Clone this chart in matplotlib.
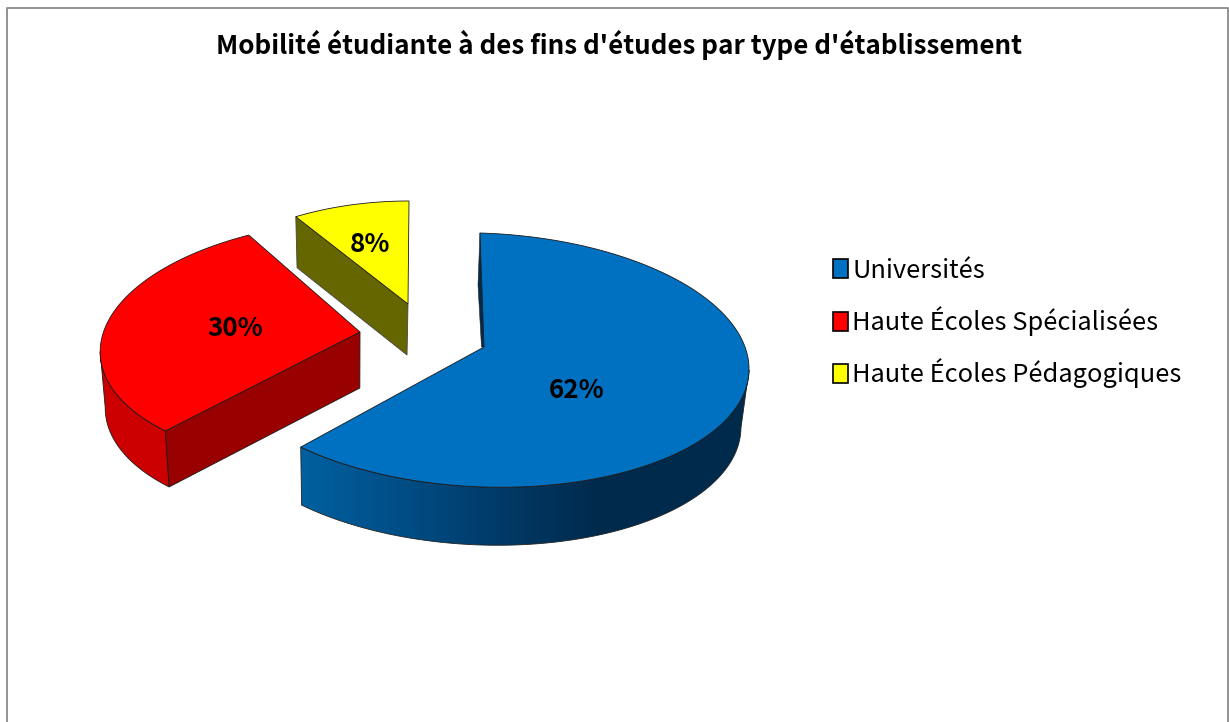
import matplotlib
matplotlib.use("Agg")
import matplotlib.pyplot as plt
import numpy as np
from matplotlib.patches import Patch, Polygon

plt.rcParams["font.family"] = ["Noto Sans CJK JP", "DejaVu Sans"]

title = "Mobilité étudiante à des fins d'études par type d'établissement"
categories = ["Universités", "Haute Écoles Spécialisées", "Haute Écoles Pédagogiques"]
values = [62, 30, 8]

TOP = ["#0070C0", "#FF0000", "#FFFF00"]
CUT = ["#002B4D", "#990000", "#666600"]
EDGE = "#1a1a1a"

# pixel layout of each exploded slice, the perspective is faked by shear + shrink
GEOM = [
    dict(cx=482, cy=360, a=267, b=127, kx=0.016, ky=0.03, apex=(484, 347), depth=58, dx=-2.7),
    dict(cx=352, cy=342, a=251, b=122, kx=-0.166, ky=0.0, apex=(360, 332), depth=56, dx=0.0),
    dict(cx=409, cy=328, a=235, b=127, kx=0.0, ky=0.0, apex=(408, 304), depth=51, dx=-1.0),
]
LABEL_POS = [(577, 391), (235, 328), (370, 244)]
SHRINK = 0.02

# wall shading of the big slice, by pixel x
WALL_X = [301, 400, 500, 600, 750]
WALL_RGB = np.array([[0, 96, 160], [0, 78, 134], [0, 58, 104], [0, 42, 76], [0, 43, 77]]) / 255


def rim(g, theta):
    t = np.radians(theta)
    rx = g["a"] * np.sin(t)
    ry = -g["b"] * np.cos(t)
    return g["cx"] + rx + g["kx"] * ry, g["cy"] + ry + g["ky"] * rx


def lower(g, x, y):
    return x + g["dx"] + SHRINK * (g["cx"] - x), y + g["depth"]


def wall(g, th):
    x, y = rim(g, th)
    bx, by = lower(g, x, y)
    return np.r_[np.c_[x, y], np.c_[bx, by][::-1]]


fig = plt.figure(figsize=(12.29, 7.22), dpi=100)
ax = fig.add_axes([0, 0, 1, 1])
ax.set_xlim(0, 1229)
ax.set_ylim(722, 0)
ax.axis("off")

# chart frame, open at the bottom where the screenshot cuts it
ax.plot([6.5, 6.5, 1228, 1228], [722, 7.5, 7.5, 722], color="#8a8a8a", lw=1.3)

edges = np.cumsum([0] + values) / sum(values) * 360

for i in [2, 1, 0]:
    g = GEOM[i]
    th = np.linspace(edges[i], edges[i + 1], 200)
    x, y = rim(g, th)
    ax_, ay = g["apex"]
    bx, by = lower(g, x, y)
    apx, apy = lower(g, ax_, ay)

    if i == 0:
        # the thin sliver of the cut face next to the 12 o'clock edge
        ax.add_patch(Polygon([(x[0], y[0]), (478, 285), (481.5, 347), (ax_, ay)],
                             fc=CUT[0], ec="#222222", lw=0.4))
        # outer wall with the horizontal shading, from the rightmost rim point on
        outline = Polygon(wall(g, np.linspace(th[np.argmax(x)], edges[1], 200)),
                          fc="none", ec="#222222", lw=0.6)
        ax.add_patch(outline)
        xs = np.arange(295, 755)
        shade = np.stack([np.interp(xs, WALL_X, WALL_RGB[:, k]) for k in range(3)], axis=1)
        im = ax.imshow(shade[None, :, :], extent=(295, 755, 560, 340), aspect="auto",
                       interpolation="bilinear")
        im.set_clip_path(outline)
        ax.set_xlim(0, 1229)
        ax.set_ylim(722, 0)
    elif i == 1:
        # outer wall, then the cut face towards the centre
        ax.add_patch(Polygon(wall(g, np.linspace(edges[1], th[np.argmin(x)], 120)),
                             fc="#CC0000", ec=EDGE, lw=0.6))
        ax.add_patch(Polygon([(x[0], y[0]), (ax_, ay), (apx, apy), (bx[0], by[0])],
                             fc=CUT[1], ec=EDGE, lw=0.6))
    else:
        # only the left cut face shows
        ax.add_patch(Polygon([(x[0], y[0]), (ax_, ay), (apx, apy), (bx[0], by[0])],
                             fc=CUT[2], ec="#444444", lw=0.6))

    ax.add_patch(Polygon(np.r_[[(ax_, ay)], np.c_[x, y]], fc=TOP[i], ec=EDGE, lw=0.6,
                         joinstyle="miter", zorder=2))
    ax.text(*LABEL_POS[i], f"{values[i]}%", ha="center", va="center",
            fontsize=18.7, fontweight="bold", color="black", zorder=3)

ax.text(619, 45, title, ha="center", va="center", fontsize=18.7, fontweight="bold", color="black")

handles = [Patch(fc=c, ec="black", lw=1.2) for c in TOP]
ax.legend(handles, categories, loc="upper left", bbox_to_anchor=(820 / 1229, 1 - 245 / 722),
          frameon=False, fontsize=18.3, handlelength=0.6, handleheight=0.78, handletextpad=0.16,
          labelspacing=0.88, borderpad=0, borderaxespad=0.5)

fig.savefig("out.png", dpi=100)
